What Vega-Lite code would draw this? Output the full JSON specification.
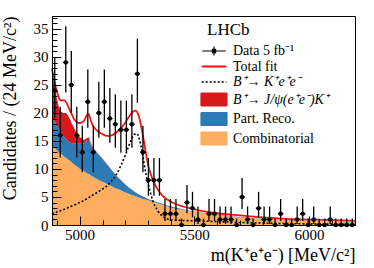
{
  "$schema": "https://vega.github.io/schema/vega-lite/v6.json",
  "width": 303,
  "height": 209,
  "autosize": {"type": "none"},
  "padding": {"left": 52, "top": 16, "right": 19, "bottom": 43},
  "background": "white",
  "config": {
    "view": {"stroke": "black", "strokeWidth": 1},
    "font": "Liberation Serif",
    "axis": {
      "domainColor": "black", "tickColor": "black", "labelColor": "black", "titleColor": "black",
      "grid": false, "labelFont": "Liberation Serif", "titleFont": "Liberation Serif",
      "labelFontSize": 15, "titleFontSize": 18, "titleFontWeight": "normal", "tickWidth": 1, "domainWidth": 1,
      "labelOverlap": false, "labelFlush": false, "labelSeparation": 0
    },
    "legend": {
      "orient": "none", "legendX": 155, "legendY": 6, "padding": 0,
      "titleFont": "Liberation Serif", "titleFontSize": 17, "titleFontWeight": "normal", "titleColor": "black",
      "titlePadding": 5, "titleAnchor": "start",
      "labelFont": "Liberation Serif", "labelFontSize": 14, "labelColor": "black", "labelOffset": 12, "labelLimit": 200,
      "symbolSize": 100, "rowPadding": 1.5
    }
  },
  "datasets": {
    "curves": [
      {"m": 4880, "comb": 14.2, "reco": 19.2, "jpsi": 27.6, "total": 27.9, "sig": 2.0},
      {"m": 4890, "comb": 13.8, "reco": 18.6, "jpsi": 25.2, "total": 25.8, "sig": 2.15},
      {"m": 4900, "comb": 13.4, "reco": 17.9, "jpsi": 22.8, "total": 24.0, "sig": 2.3},
      {"m": 4910, "comb": 13.0, "reco": 17.2, "jpsi": 21.0, "total": 22.7, "sig": 2.45},
      {"m": 4920, "comb": 12.7, "reco": 16.5, "jpsi": 20.2, "total": 22.2, "sig": 2.6},
      {"m": 4930, "comb": 12.3, "reco": 15.9, "jpsi": 20.0, "total": 22.3, "sig": 2.75},
      {"m": 4940, "comb": 12.0, "reco": 15.4, "jpsi": 20.0, "total": 22.0, "sig": 2.9},
      {"m": 4950, "comb": 11.7, "reco": 15.0, "jpsi": 19.5, "total": 21.2, "sig": 3.1},
      {"m": 4960, "comb": 11.4, "reco": 14.7, "jpsi": 18.7, "total": 20.3, "sig": 3.3},
      {"m": 4970, "comb": 11.0, "reco": 14.6, "jpsi": 17.8, "total": 19.4, "sig": 3.45},
      {"m": 4980, "comb": 10.7, "reco": 14.5, "jpsi": 17.0, "total": 18.7, "sig": 3.6},
      {"m": 4990, "comb": 10.4, "reco": 14.5, "jpsi": 16.3, "total": 18.3, "sig": 3.8},
      {"m": 5000, "comb": 10.1, "reco": 14.5, "jpsi": 15.8, "total": 18.2, "sig": 4.0},
      {"m": 5010, "comb": 9.8, "reco": 14.5, "jpsi": 15.4, "total": 18.3, "sig": 4.2},
      {"m": 5020, "comb": 9.6, "reco": 14.6, "jpsi": 15.2, "total": 18.6, "sig": 4.4},
      {"m": 5030, "comb": 9.3, "reco": 15.0, "jpsi": 15.5, "total": 19.5, "sig": 4.65},
      {"m": 5040, "comb": 9.1, "reco": 15.2, "jpsi": 15.6, "total": 19.8, "sig": 4.9},
      {"m": 5045, "comb": 9.0, "reco": 14.9, "jpsi": 15.2, "total": 19.3, "sig": 5.0},
      {"m": 5050, "comb": 8.8, "reco": 14.2, "jpsi": 14.5, "total": 18.5, "sig": 5.15},
      {"m": 5060, "comb": 8.6, "reco": 13.6, "jpsi": 13.8, "total": 17.6, "sig": 5.4},
      {"m": 5080, "comb": 8.1, "reco": 12.7, "jpsi": 12.8, "total": 16.7, "sig": 5.9},
      {"m": 5100, "comb": 7.7, "reco": 11.8, "jpsi": 11.85, "total": 16.2, "sig": 6.4},
      {"m": 5120, "comb": 7.3, "reco": 10.8, "jpsi": 10.83, "total": 15.9, "sig": 7.0},
      {"m": 5140, "comb": 6.9, "reco": 9.8, "jpsi": 9.83, "total": 16.0, "sig": 7.9},
      {"m": 5160, "comb": 6.5, "reco": 8.8, "jpsi": 8.83, "total": 16.5, "sig": 9.0},
      {"m": 5180, "comb": 6.2, "reco": 8.0, "jpsi": 8.03, "total": 17.3, "sig": 10.6},
      {"m": 5200, "comb": 5.8, "reco": 7.2, "jpsi": 7.23, "total": 18.3, "sig": 12.5},
      {"m": 5210, "comb": 5.65, "reco": 6.85, "jpsi": 6.88, "total": 19.0, "sig": 13.6},
      {"m": 5220, "comb": 5.5, "reco": 6.5, "jpsi": 6.53, "total": 19.6, "sig": 14.7},
      {"m": 5230, "comb": 5.35, "reco": 6.2, "jpsi": 6.23, "total": 20.1, "sig": 15.6},
      {"m": 5240, "comb": 5.2, "reco": 5.9, "jpsi": 5.93, "total": 20.4, "sig": 16.2},
      {"m": 5250, "comb": 5.05, "reco": 5.65, "jpsi": 5.68, "total": 20.2, "sig": 16.3},
      {"m": 5260, "comb": 4.9, "reco": 5.4, "jpsi": 5.43, "total": 19.2, "sig": 15.4},
      {"m": 5270, "comb": 4.75, "reco": 5.2, "jpsi": 5.23, "total": 17.3, "sig": 13.6},
      {"m": 5280, "comb": 4.6, "reco": 5.0, "jpsi": 5.03, "total": 15.0, "sig": 11.2},
      {"m": 5290, "comb": 4.5, "reco": 4.8, "jpsi": 4.83, "total": 12.6, "sig": 9.0},
      {"m": 5300, "comb": 4.4, "reco": 4.6, "jpsi": 4.63, "total": 10.5, "sig": 7.2},
      {"m": 5310, "comb": 4.25, "reco": 4.45, "jpsi": 4.48, "total": 9.1, "sig": 5.6},
      {"m": 5320, "comb": 4.1, "reco": 4.3, "jpsi": 4.33, "total": 8.0, "sig": 4.2},
      {"m": 5330, "comb": 4.0, "reco": 4.15, "jpsi": 4.18, "total": 7.1, "sig": 3.3},
      {"m": 5340, "comb": 3.9, "reco": 4.05, "jpsi": 4.08, "total": 6.4, "sig": 2.6},
      {"m": 5360, "comb": 3.6, "reco": 3.75, "jpsi": 3.78, "total": 5.3, "sig": 1.6},
      {"m": 5380, "comb": 3.35, "reco": 3.5, "jpsi": 3.53, "total": 4.6, "sig": 1.1},
      {"m": 5400, "comb": 3.1, "reco": 3.25, "jpsi": 3.28, "total": 4.1, "sig": 0.9},
      {"m": 5450, "comb": 2.7, "reco": 2.8, "jpsi": 2.83, "total": 3.3, "sig": 0.8},
      {"m": 5500, "comb": 2.3, "reco": 2.37, "jpsi": 2.4, "total": 2.8, "sig": 0.75},
      {"m": 5550, "comb": 2.0, "reco": 2.05, "jpsi": 2.08, "total": 2.4, "sig": 0.68},
      {"m": 5600, "comb": 1.75, "reco": 1.8, "jpsi": 1.83, "total": 2.1, "sig": 0.6},
      {"m": 5700, "comb": 1.35, "reco": 1.4, "jpsi": 1.43, "total": 1.7, "sig": 0.45},
      {"m": 5800, "comb": 1.05, "reco": 1.1, "jpsi": 1.13, "total": 1.35, "sig": 0.35},
      {"m": 5900, "comb": 0.85, "reco": 0.9, "jpsi": 0.93, "total": 1.1, "sig": 0.25},
      {"m": 6000, "comb": 0.65, "reco": 0.7, "jpsi": 0.73, "total": 0.95, "sig": 0.2},
      {"m": 6100, "comb": 0.52, "reco": 0.57, "jpsi": 0.6, "total": 0.85, "sig": 0.15},
      {"m": 6200, "comb": 0.42, "reco": 0.47, "jpsi": 0.5, "total": 0.75, "sig": 0.1}
    ],
    "points": [
      {"m": 4892, "n": 24, "lo": 19.13, "hi": 29.98},
      {"m": 4916, "n": 16, "lo": 12.03, "hi": 21.09},
      {"m": 4940, "n": 29, "lo": 23.64, "hi": 35.45},
      {"m": 4964, "n": 25, "lo": 20.03, "hi": 31.07},
      {"m": 4988, "n": 16, "lo": 12.03, "hi": 21.09},
      {"m": 5012, "n": 13, "lo": 9.43, "hi": 17.71},
      {"m": 5036, "n": 22, "lo": 17.34, "hi": 27.77},
      {"m": 5060, "n": 13, "lo": 9.43, "hi": 17.71},
      {"m": 5084, "n": 20, "lo": 15.56, "hi": 25.56},
      {"m": 5108, "n": 22, "lo": 17.34, "hi": 27.77},
      {"m": 5132, "n": 19, "lo": 14.67, "hi": 24.44},
      {"m": 5156, "n": 18, "lo": 13.79, "hi": 23.33},
      {"m": 5180, "n": 17, "lo": 12.91, "hi": 22.21},
      {"m": 5204, "n": 17, "lo": 12.91, "hi": 22.21},
      {"m": 5228, "n": 18, "lo": 13.79, "hi": 23.33},
      {"m": 5252, "n": 27, "lo": 21.83, "hi": 33.27},
      {"m": 5276, "n": 13, "lo": 9.43, "hi": 17.71},
      {"m": 5300, "n": 8, "lo": 5.22, "hi": 11.96},
      {"m": 5324, "n": 8, "lo": 5.22, "hi": 11.96},
      {"m": 5348, "n": 8, "lo": 5.22, "hi": 11.96},
      {"m": 5372, "n": 2, "lo": 0.71, "hi": 4.64},
      {"m": 5396, "n": 2, "lo": 0.71, "hi": 4.64},
      {"m": 5420, "n": 2, "lo": 0.71, "hi": 4.64},
      {"m": 5444, "n": 0, "lo": 0, "hi": 1.15},
      {"m": 5468, "n": 4, "lo": 2.09, "hi": 7.16},
      {"m": 5492, "n": 3, "lo": 1.37, "hi": 5.92},
      {"m": 5516, "n": 1, "lo": 0.17, "hi": 3.3},
      {"m": 5540, "n": 0, "lo": 0, "hi": 1.15},
      {"m": 5564, "n": 2, "lo": 0.71, "hi": 4.64},
      {"m": 5588, "n": 2, "lo": 0.71, "hi": 4.64},
      {"m": 5612, "n": 1, "lo": 0.17, "hi": 3.3},
      {"m": 5636, "n": 1, "lo": 0.17, "hi": 3.3},
      {"m": 5660, "n": 1, "lo": 0.17, "hi": 3.3},
      {"m": 5684, "n": 0, "lo": 0, "hi": 1.15},
      {"m": 5708, "n": 5, "lo": 2.84, "hi": 8.38},
      {"m": 5732, "n": 1, "lo": 0.17, "hi": 3.3},
      {"m": 5756, "n": 0, "lo": 0, "hi": 1.15},
      {"m": 5780, "n": 3, "lo": 1.37, "hi": 5.92},
      {"m": 5804, "n": 1, "lo": 0.17, "hi": 3.3},
      {"m": 5828, "n": 1, "lo": 0.17, "hi": 3.3},
      {"m": 5852, "n": 0, "lo": 0, "hi": 1.15},
      {"m": 5876, "n": 2, "lo": 0.71, "hi": 4.64},
      {"m": 5900, "n": 0, "lo": 0, "hi": 1.15},
      {"m": 5924, "n": 0, "lo": 0, "hi": 1.15},
      {"m": 5948, "n": 1, "lo": 0.17, "hi": 3.3},
      {"m": 5972, "n": 2, "lo": 0.71, "hi": 4.64},
      {"m": 5996, "n": 0, "lo": 0, "hi": 1.15},
      {"m": 6020, "n": 1, "lo": 0.17, "hi": 3.3},
      {"m": 6044, "n": 0, "lo": 0, "hi": 1.15},
      {"m": 6068, "n": 0, "lo": 0, "hi": 1.15},
      {"m": 6092, "n": 1, "lo": 0.17, "hi": 3.3},
      {"m": 6116, "n": 0, "lo": 0, "hi": 1.15},
      {"m": 6140, "n": 0, "lo": 0, "hi": 1.15},
      {"m": 6164, "n": 0, "lo": 0, "hi": 1.15},
      {"m": 6188, "n": 0, "lo": 0, "hi": 1.15}
    ]
  },
  "encoding": {
    "x": {
      "field": "m", "type": "quantitative",
      "scale": {"domain": [4880, 6200], "nice": false, "zero": false},
      "axis": {
        "title": "m(K⁺e⁺e⁻) [MeV/c²]",
        "values": [4900, 5000, 5100, 5200, 5300, 5400, 5500, 5600, 5700, 5800, 5900, 6000, 6100, 6200],
        "format": "d",
        "labelExpr": "datum.value % 500 === 0 ? datum.label : ''",
        "tickSize": {"condition": {"test": "datum.value % 500 === 0", "value": -9}, "value": -5},
        "labelPadding": 11, "labelOverlap": false, "labelFlush": false, "zindex": 1,
        "titleAnchor": "end", "titlePadding": 0
      }
    }
  },
  "layer": [
    {
      "data": {"name": "curves"},
      "mark": {"type": "area", "interpolate": "monotone", "opacity": 1},
      "encoding": {
        "y": {
          "field": "comb", "type": "quantitative", "stack": null,
          "scale": {"domain": [0, 37.3], "nice": false, "zero": true},
          "axis": {"title": "Candidates / (24 MeV/c²)", "values": [0,1,2,3,4,5,6,7,8,9,10,11,12,13,14,15,16,17,18,19,20,21,22,23,24,25,26,27,28,29,30,31,32,33,34,35,36,37], "labelExpr": "datum.value % 5 === 0 ? datum.label : ''", "tickSize": {"condition": {"test": "datum.value % 5 === 0", "value": -9}, "value": -5}, "labelPadding": 13, "labelOverlap": false, "labelFlush": false, "zindex": 1, "titleAnchor": "end", "titlePadding": 14}
        },
        "color": {
          "datum": "Combinatorial",
          "scale": {"domain": ["Data 5 fb⁻¹", "Total fit", "B⁺→ K⁺e⁺e⁻", "B⁺→ J/ψ(e⁺e⁻)K⁺", "Part. Reco.", "Combinatorial"], "range": ["black", "#f01414", "black", "#d7191c", "#2c7bb6", "#fdae61"]},
          "legend": {"title": "LHCb", "encode": {"symbols": {"update": {"shape": {"signal": "datum.index === 0 ? 'M-0.9,0H0.9M0,-0.35V0.35M-0.12,-0.12H0.12V0.12H-0.12Z' : datum.index <= 2 ? 'M-0.95,0H0.95' : 'M-1,-0.5H1V0.5H-1Z'"}, "size": {"value": 676}, "strokeWidth": {"signal": "datum.index === 1 ? 1.8 : datum.index === 2 ? 1.6 : 1.2"}, "strokeDash": {"signal": "datum.index === 2 ? [2,2] : [1,0]"}, "opacity": {"value": 1}}}, "labels": {"update": {"fontStyle": {"signal": "datum.index === 2 || datum.index === 3 ? 'italic' : 'normal'"}}}}}
        }
      }
    },
    {
      "data": {"name": "curves"},
      "mark": {"type": "area", "interpolate": "monotone", "opacity": 1},
      "encoding": {
        "y": {
          "field": "reco", "type": "quantitative", "stack": null,
          "axis": {"title": "Candidates / (24 MeV/c²)", "values": [0,1,2,3,4,5,6,7,8,9,10,11,12,13,14,15,16,17,18,19,20,21,22,23,24,25,26,27,28,29,30,31,32,33,34,35,36,37], "labelExpr": "datum.value % 5 === 0 ? datum.label : ''", "tickSize": {"condition": {"test": "datum.value % 5 === 0", "value": -9}, "value": -5}, "labelPadding": 13, "labelOverlap": false, "labelFlush": false, "zindex": 1, "titleAnchor": "end", "titlePadding": 14}
        },
        "y2": {"field": "comb"},
        "color": {
          "datum": "Part. Reco.",
          "legend": {"title": "LHCb", "encode": {"symbols": {"update": {"shape": {"signal": "datum.index === 0 ? 'M-0.9,0H0.9M0,-0.35V0.35M-0.12,-0.12H0.12V0.12H-0.12Z' : datum.index <= 2 ? 'M-0.95,0H0.95' : 'M-1,-0.5H1V0.5H-1Z'"}, "size": {"value": 676}, "strokeWidth": {"signal": "datum.index === 1 ? 1.8 : datum.index === 2 ? 1.6 : 1.2"}, "strokeDash": {"signal": "datum.index === 2 ? [2,2] : [1,0]"}, "opacity": {"value": 1}}}, "labels": {"update": {"fontStyle": {"signal": "datum.index === 2 || datum.index === 3 ? 'italic' : 'normal'"}}}}}
        }
      }
    },
    {
      "data": {"name": "curves"},
      "mark": {"type": "area", "interpolate": "monotone", "opacity": 1},
      "encoding": {
        "y": {
          "field": "jpsi", "type": "quantitative", "stack": null,
          "axis": {"title": "Candidates / (24 MeV/c²)", "values": [0,1,2,3,4,5,6,7,8,9,10,11,12,13,14,15,16,17,18,19,20,21,22,23,24,25,26,27,28,29,30,31,32,33,34,35,36,37], "labelExpr": "datum.value % 5 === 0 ? datum.label : ''", "tickSize": {"condition": {"test": "datum.value % 5 === 0", "value": -9}, "value": -5}, "labelPadding": 13, "labelOverlap": false, "labelFlush": false, "zindex": 1, "titleAnchor": "end", "titlePadding": 14}
        },
        "y2": {"field": "reco"},
        "color": {
          "datum": "B⁺→ J/ψ(e⁺e⁻)K⁺",
          "legend": {"title": "LHCb", "encode": {"symbols": {"update": {"shape": {"signal": "datum.index === 0 ? 'M-0.9,0H0.9M0,-0.35V0.35M-0.12,-0.12H0.12V0.12H-0.12Z' : datum.index <= 2 ? 'M-0.95,0H0.95' : 'M-1,-0.5H1V0.5H-1Z'"}, "size": {"value": 676}, "strokeWidth": {"signal": "datum.index === 1 ? 1.8 : datum.index === 2 ? 1.6 : 1.2"}, "strokeDash": {"signal": "datum.index === 2 ? [2,2] : [1,0]"}, "opacity": {"value": 1}}}, "labels": {"update": {"fontStyle": {"signal": "datum.index === 2 || datum.index === 3 ? 'italic' : 'normal'"}}}}}
        }
      }
    },
    {
      "data": {"name": "curves"},
      "mark": {"type": "line", "interpolate": "monotone", "strokeWidth": 1.8},
      "encoding": {
        "y": {
          "field": "total", "type": "quantitative",
          "axis": {"title": "Candidates / (24 MeV/c²)", "values": [0,1,2,3,4,5,6,7,8,9,10,11,12,13,14,15,16,17,18,19,20,21,22,23,24,25,26,27,28,29,30,31,32,33,34,35,36,37], "labelExpr": "datum.value % 5 === 0 ? datum.label : ''", "tickSize": {"condition": {"test": "datum.value % 5 === 0", "value": -9}, "value": -5}, "labelPadding": 13, "labelOverlap": false, "labelFlush": false, "zindex": 1, "titleAnchor": "end", "titlePadding": 14}
        },
        "color": {
          "datum": "Total fit",
          "legend": {"title": "LHCb", "encode": {"symbols": {"update": {"shape": {"signal": "datum.index === 0 ? 'M-0.9,0H0.9M0,-0.35V0.35M-0.12,-0.12H0.12V0.12H-0.12Z' : datum.index <= 2 ? 'M-0.95,0H0.95' : 'M-1,-0.5H1V0.5H-1Z'"}, "size": {"value": 676}, "strokeWidth": {"signal": "datum.index === 1 ? 1.8 : datum.index === 2 ? 1.6 : 1.2"}, "strokeDash": {"signal": "datum.index === 2 ? [2,2] : [1,0]"}, "opacity": {"value": 1}}}, "labels": {"update": {"fontStyle": {"signal": "datum.index === 2 || datum.index === 3 ? 'italic' : 'normal'"}}}}}
        }
      }
    },
    {
      "data": {"name": "curves"},
      "mark": {"type": "line", "interpolate": "monotone", "strokeWidth": 1.6, "strokeDash": [2, 2]},
      "encoding": {
        "y": {
          "field": "sig", "type": "quantitative",
          "axis": {"title": "Candidates / (24 MeV/c²)", "values": [0,1,2,3,4,5,6,7,8,9,10,11,12,13,14,15,16,17,18,19,20,21,22,23,24,25,26,27,28,29,30,31,32,33,34,35,36,37], "labelExpr": "datum.value % 5 === 0 ? datum.label : ''", "tickSize": {"condition": {"test": "datum.value % 5 === 0", "value": -9}, "value": -5}, "labelPadding": 13, "labelOverlap": false, "labelFlush": false, "zindex": 1, "titleAnchor": "end", "titlePadding": 14}
        },
        "color": {
          "datum": "B⁺→ K⁺e⁺e⁻",
          "legend": {"title": "LHCb", "encode": {"symbols": {"update": {"shape": {"signal": "datum.index === 0 ? 'M-0.9,0H0.9M0,-0.35V0.35M-0.12,-0.12H0.12V0.12H-0.12Z' : datum.index <= 2 ? 'M-0.95,0H0.95' : 'M-1,-0.5H1V0.5H-1Z'"}, "size": {"value": 676}, "strokeWidth": {"signal": "datum.index === 1 ? 1.8 : datum.index === 2 ? 1.6 : 1.2"}, "strokeDash": {"signal": "datum.index === 2 ? [2,2] : [1,0]"}, "opacity": {"value": 1}}}, "labels": {"update": {"fontStyle": {"signal": "datum.index === 2 || datum.index === 3 ? 'italic' : 'normal'"}}}}}
        }
      }
    },
    {
      "data": {"name": "points"},
      "mark": {"type": "rule", "strokeWidth": 1.3},
      "encoding": {
        "y": {
          "field": "lo", "type": "quantitative",
          "axis": {"title": "Candidates / (24 MeV/c²)", "values": [0,1,2,3,4,5,6,7,8,9,10,11,12,13,14,15,16,17,18,19,20,21,22,23,24,25,26,27,28,29,30,31,32,33,34,35,36,37], "labelExpr": "datum.value % 5 === 0 ? datum.label : ''", "tickSize": {"condition": {"test": "datum.value % 5 === 0", "value": -9}, "value": -5}, "labelPadding": 13, "labelOverlap": false, "labelFlush": false, "zindex": 1, "titleAnchor": "end", "titlePadding": 14}
        },
        "y2": {"field": "hi"},
        "color": {
          "datum": "Data 5 fb⁻¹",
          "legend": {"title": "LHCb", "encode": {"symbols": {"update": {"shape": {"signal": "datum.index === 0 ? 'M-0.9,0H0.9M0,-0.35V0.35M-0.12,-0.12H0.12V0.12H-0.12Z' : datum.index <= 2 ? 'M-0.95,0H0.95' : 'M-1,-0.5H1V0.5H-1Z'"}, "size": {"value": 676}, "strokeWidth": {"signal": "datum.index === 1 ? 1.8 : datum.index === 2 ? 1.6 : 1.2"}, "strokeDash": {"signal": "datum.index === 2 ? [2,2] : [1,0]"}, "opacity": {"value": 1}}}, "labels": {"update": {"fontStyle": {"signal": "datum.index === 2 || datum.index === 3 ? 'italic' : 'normal'"}}}}}
        }
      }
    },
    {
      "data": {"name": "points"},
      "mark": {"type": "tick", "orient": "horizontal", "size": 5.5, "thickness": 1.3, "opacity": 1},
      "encoding": {
        "y": {
          "field": "n", "type": "quantitative",
          "axis": {"title": "Candidates / (24 MeV/c²)", "values": [0,1,2,3,4,5,6,7,8,9,10,11,12,13,14,15,16,17,18,19,20,21,22,23,24,25,26,27,28,29,30,31,32,33,34,35,36,37], "labelExpr": "datum.value % 5 === 0 ? datum.label : ''", "tickSize": {"condition": {"test": "datum.value % 5 === 0", "value": -9}, "value": -5}, "labelPadding": 13, "labelOverlap": false, "labelFlush": false, "zindex": 1, "titleAnchor": "end", "titlePadding": 14}
        },
        "color": {
          "datum": "Data 5 fb⁻¹",
          "legend": {"title": "LHCb", "encode": {"symbols": {"update": {"shape": {"signal": "datum.index === 0 ? 'M-0.9,0H0.9M0,-0.35V0.35M-0.12,-0.12H0.12V0.12H-0.12Z' : datum.index <= 2 ? 'M-0.95,0H0.95' : 'M-1,-0.5H1V0.5H-1Z'"}, "size": {"value": 676}, "strokeWidth": {"signal": "datum.index === 1 ? 1.8 : datum.index === 2 ? 1.6 : 1.2"}, "strokeDash": {"signal": "datum.index === 2 ? [2,2] : [1,0]"}, "opacity": {"value": 1}}}, "labels": {"update": {"fontStyle": {"signal": "datum.index === 2 || datum.index === 3 ? 'italic' : 'normal'"}}}}}
        }
      }
    },
    {
      "data": {"name": "points"},
      "mark": {"type": "point", "filled": true, "shape": "circle", "size": 20, "opacity": 1},
      "encoding": {
        "y": {
          "field": "n", "type": "quantitative",
          "axis": {"title": "Candidates / (24 MeV/c²)", "values": [0,1,2,3,4,5,6,7,8,9,10,11,12,13,14,15,16,17,18,19,20,21,22,23,24,25,26,27,28,29,30,31,32,33,34,35,36,37], "labelExpr": "datum.value % 5 === 0 ? datum.label : ''", "tickSize": {"condition": {"test": "datum.value % 5 === 0", "value": -9}, "value": -5}, "labelPadding": 13, "labelOverlap": false, "labelFlush": false, "zindex": 1, "titleAnchor": "end", "titlePadding": 14}
        },
        "color": {
          "datum": "Data 5 fb⁻¹",
          "legend": {"title": "LHCb", "encode": {"symbols": {"update": {"shape": {"signal": "datum.index === 0 ? 'M-0.9,0H0.9M0,-0.35V0.35M-0.12,-0.12H0.12V0.12H-0.12Z' : datum.index <= 2 ? 'M-0.95,0H0.95' : 'M-1,-0.5H1V0.5H-1Z'"}, "size": {"value": 676}, "strokeWidth": {"signal": "datum.index === 1 ? 1.8 : datum.index === 2 ? 1.6 : 1.2"}, "strokeDash": {"signal": "datum.index === 2 ? [2,2] : [1,0]"}, "opacity": {"value": 1}}}, "labels": {"update": {"fontStyle": {"signal": "datum.index === 2 || datum.index === 3 ? 'italic' : 'normal'"}}}}}
        }
      }
    }
  ]
}
